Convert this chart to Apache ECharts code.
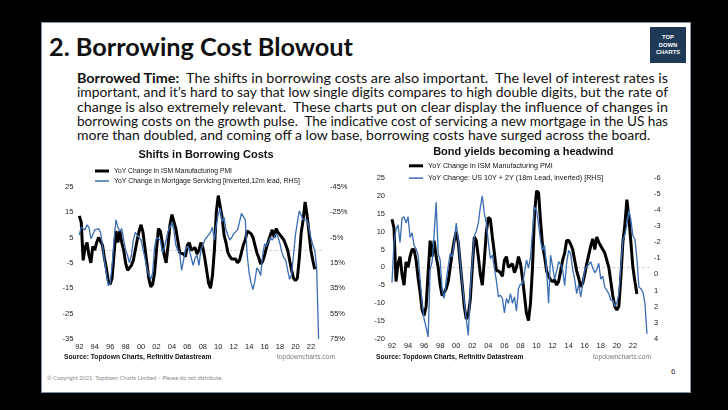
<!DOCTYPE html>
<html>
<head>
<meta charset="utf-8">
<script src="https://cdn.jsdelivr.net/npm/echarts@6.0.0/dist/echarts.min.js"></script>
<style>
  html, body { margin:0; padding:0; }
  body { width:728px; height:410px; background:#000; position:relative; overflow:hidden; font-family: Lato, "Liberation Sans", sans-serif; }
  #slide { position:absolute; left:41px; top:22px; width:650px; height:371px; background:#fff; border:1px solid #7f90a8; box-sizing:border-box; }
  .pl { position:absolute; left:77px; height:14px; line-height:14px; font-size:13px; color:#111; white-space:pre; transform-origin:0 50%; }
  #title { position:absolute; left:49px; top:32px; line-height:30px; font-size:24px; font-weight:700; color:#111; white-space:pre; transform-origin:0 50%; }
  #logo { position:absolute; left:650px; top:27px; width:36px; height:36px; background:#1e3a56; color:#fff; font-family:"Liberation Sans", sans-serif; font-weight:700; font-size:5.8px; text-align:center; }
  #logo div { position:absolute; left:0; width:36px; line-height:7px; }
  #copy { position:absolute; left:47px; top:374px; font-size:5.7px; color:#8a8a8a; white-space:pre; }
  #pnum { position:absolute; left:671px; top:367px; font-size:8px; color:#333; font-family:"Liberation Sans", sans-serif; }
  #chart { position:absolute; left:0; top:0; width:728px; height:410px; }
</style>
</head>
<body>
<div id="slide"></div>
<div id="title">2. Borrowing Cost Blowout</div>
<div id="logo"><div style="top:7px">TOP</div><div style="top:14.5px">DOWN</div><div style="top:22px">CHARTS</div></div>
<div class="pl" id="l1" style="top:71px"><b>Borrowed Time:</b>  The shifts in borrowing costs are also important.  The level of interest rates is</div>
<div class="pl" id="l2" style="top:85.3px">important, and it’s hard to say that low single digits compares to high double digits, but the rate of</div>
<div class="pl" id="l3" style="top:99.5px">change is also extremely relevant.  These charts put on clear display the influence of changes in</div>
<div class="pl" id="l4" style="top:113.8px">borrowing costs on the growth pulse.  The indicative cost of servicing a new mortgage in the US has</div>
<div class="pl" id="l5" style="top:128px">more than doubled, and coming off a low base, borrowing costs have surged across the board.</div>
<div id="copy">© Copyright 2021  Topdown Charts Limited – Please do not distribute.</div>
<div id="pnum">6</div>
<div id="chart"></div>
<script>
// ---------------- DATA ----------------
const START_YEAR = 1992;      // first observation (quarterly sampling)
const STEP = 0.25;            // years between observations

// YoY change in ISM Manufacturing PMI (points), 1992Q1 .. 2022Q3
const ismPmiYoY = [
  13.5, 11, -4, 1,
  3, -2, -5, 1.5,
  0, 3, 5, 5,
  2, -3, -7, -12,
  -13.5, -11, -1.5, 7.5,
  3, 7.5, 3, 0,
  -5, -8, -7, -6,
  -4, 0, 4, 7.5,
  10, 7, 1, -5,
  -11, -14.5, -13.5, -9,
  0, 8.5, 7.5, 3,
  -2, -5, 2, 10,
  14, 13.5, 8.5, 4,
  -1, -1, -1.5, -2.5,
  2, 3, 0, 0.5,
  1, -1.5, 0, 3,
  1, -3, -8, -13,
  -15, -10, 0, 15,
  21.5, 21, 13, 6,
  3, -1, -2.5, -3.5,
  -4, -3.5, -5, -4,
  -1, 2, 4, 7.5,
  7.5, 6.5, 5, 2,
  -1, -3, -5.5, -4.5,
  -2, 1, 3.5, 6,
  8, 5, 8.5, 7,
  6, 5, 4, 2,
  0, -4, -8, -11,
  -12, -11, -3, 7,
  12, 19, 14, 7,
  0, -4, -7.5
];

// YoY change in mortgage servicing cost (%), 12m lead, plotted inverted on RHS, 1992Q1 .. 2023Q1
const mortgageServicingYoY = [
  -7, -13, -12, -11,
  -15, -13, -4, -7,
  -11, -12, -12, -9,
  1, 13, 23, 33,
  31, 17, -3, -19,
  -13, -10, -12, -3,
  5, 9, 15, 9,
  -3, -9, -9, -5,
  -3, -3, 11, 19,
  24, 28, 23, 3,
  -5, -5, -3, 7,
  3, -3, -10, -13,
  -17, -11, 1, 5,
  7, 21, 13, 5,
  2, 5, 11, 17,
  11, 9, 17, 5,
  1, -3, -5, -6,
  -9, -13, -3, -15,
  -23, -28, -17, -21,
  -11, -7, -3, -5,
  -8, -9, -11, -17,
  -24, -25, -19, 9,
  23, 31, 36, 29,
  19, 21, 25, 9,
  0, 2, 1, -5,
  -3, -4, -8, -5,
  0, 7, 11, 13,
  21, 28, 24, 9,
  -7, -17, -26, -25,
  -19, -18, -19, -20,
  -5, 1, 5, 19,
  75
];

// YoY change in US 10Y + 2Y yields (pp), 18m lead, plotted inverted on RHS, 1992Q1 .. 2023Q4
const us10y2yYoY = [
  0.5, -2, -2.8, -3.1,
  -2, -3.5, -3.6, -3.2,
  -3.6, -2.3, -2.6, -1.8,
  -1.6, -1.2, 0.3, 1.8,
  2.8, 3.3, 3.9, -0.3,
  -0.8, -2.5, -4.5, -1.3,
  -0.9, 1, 1.5, 0.4,
  -0.5, -1.3, -1.1, -2,
  -3.2, -2.2, -0.8, 0.6,
  1.7, 2.8, 3.8, 1,
  -0.8, -2.4, -2.7, -3.2,
  -4.2, -4.9, -3.8, -3.2,
  -2, -1, -1.2, -0.4,
  0.4, 1.4, 1.3, 1.5,
  2.4, 1.5, 1.8, 1.2,
  1.8, 1.4, 2.3, 0.9,
  0.6, 0.6, -0.1, -0.9,
  -0.4, -1.1, -2.7, -4.2,
  -4, -3.1, -2.1, -1.5,
  -1.8, -0.3, 1.8, -1.2,
  -0.5, 0.3, -0.2, -0.8,
  -0.6, -0.3, 0.7, -0.7,
  -1.5, -1.3, -0.3, 0.3,
  1.2, 0.6, 1.4, 0.6,
  -0.3, -0.5, -0.6, -0.8,
  -0.4, -0.1, -0.3, -0.7,
  0.3, 0.1, 0.8, 1,
  1.2, 1.6, 1.6, 2,
  1.8, 1.2, -0.5, -2.1,
  -2.5, -3.1, -4, -3.4,
  -2.4, -2.2, -1, 0.8,
  0.9, 1.1, 1.8, 3.7
];

const yearTicks = [1992,1994,1996,1998,2000,2002,2004,2006,2008,2010,2012,2014,2016,2018,2020,2022];
const leftLhsTicks = [-35,-25,-15,-5,5,15,25];
const leftRhsTicks = [-45,-25,-5,15,35,55,75];
const rightLhsTicks = [-20,-15,-10,-5,0,5,10,15,20,25];
const rightRhsTicks = [-6,-5,-4,-3,-2,-1,0,1,2,3,4];

const NAME_ISM = 'YoY Change in ISM Manufacturing PMI';
const NAME_MORT = 'YoY Change in Mortgage Servicing [inverted,12m lead, RHS]';
const NAME_YLD = 'YoY Change: US 10Y + 2Y (18m Lead, inverted) [RHS]';

// ---------------- TEXT FITTING (slide text) ----------------
(function fitText(){
  const target = 591;
  let scales = [];
  ['l1','l2','l3','l4'].forEach(id => {
    const el = document.getElementById(id);
    const w = el.getBoundingClientRect().width;
    const s = target / w; scales.push(s);
    el.style.transform = 'scaleX(' + s + ')';
  });
  const avg = scales.reduce((a,b)=>a+b,0)/scales.length;
  document.getElementById('l5').style.transform = 'scaleX(' + avg + ')';
  const t = document.getElementById('title');
  const tw = t.getBoundingClientRect().width;
  t.style.transform = 'scaleX(' + (304 / tw) + ')';
})();

// ---------------- CHART ----------------
const toXY = arr => arr.map((v, i) => [START_YEAR + i * STEP, v]);
const BLUE = '#3a6db5';
const FONT = '"Liberation Sans", Arial, sans-serif';
const lab = { fontFamily: FONT, fontSize: 7.5, color: '#1a1a1a' };
const yr = v => String(Math.round(v) % 100).padStart(2, '0');

function xAx(gridIndex, max) {
  return {
    type: 'value', gridIndex, min: START_YEAR, max,
    axisLine: { show: false }, axisTick: { show: false }, splitLine: { show: false },
    axisLabel: Object.assign({ customValues: yearTicks, formatter: yr, margin: 3.5 }, lab)
  };
}
function yAx(gridIndex, min, max, ticks, opts) {
  return Object.assign({
    type: 'value', gridIndex, min, max,
    axisLine: { show: false }, axisTick: { show: false }, splitLine: { show: false },
  }, opts, {
    axisLabel: Object.assign({ customValues: ticks }, lab, opts.axisLabel || {})
  });
}
function legend(name, left, top, h, fs) {
  return {
    data: [name], left, top, padding: 0, icon: 'rect', itemWidth: 14, itemHeight: h,
    selectedMode: false, textStyle: { fontFamily: FONT, fontSize: fs, color: '#111' }
  };
}
const zeroLine = {
  silent: true, symbol: 'none', z: 1, label: { show: false },
  lineStyle: { color: '#d2d2d2', type: [3, 2], width: 1 },
  data: [{ yAxis: 0 }]
};

const chart = echarts.init(document.getElementById('chart'), null, { renderer: 'canvas' });
chart.setOption({
  backgroundColor: 'transparent',
  animation: false,
  grid: [
    { left: 79.3, top: 186.7, width: 242.7, height: 152.3 },
    { left: 392, top: 178.3, width: 258, height: 160.2 }
  ],
  xAxis: [ xAx(0, 2023.44), xAx(1, 2024.13) ],
  yAxis: [
    yAx(0, -35, 25, leftLhsTicks, { axisLabel: { margin: 6 } }),
    yAx(0, -45, 75, leftRhsTicks, { position: 'right', inverse: true, axisLabel: { margin: 8, formatter: v => v + '%' } }),
    yAx(1, -20, 25, rightLhsTicks, { axisLabel: { margin: 7 } }),
    yAx(1, -6, 4, rightRhsTicks, { position: 'right', inverse: true, axisLabel: { margin: 4 } })
  ],
  legend: [
    legend(NAME_ISM, 95, 167.5, 3, 6.8),
    legend(NAME_MORT, 95, 177.5, 1.5, 6.9),
    legend(NAME_ISM, 409, 162.3, 3, 7.2),
    legend(NAME_YLD, 409, 174.6, 1.5, 7.2)
  ],
  graphic: [
    { type: 'text', x: 206, y: 155, style: { text: 'Shifts in Borrowing Costs', font: 'bold 11px ' + FONT, fill: '#111', align: 'center', verticalAlign: 'middle' } },
    { type: 'text', x: 523.3, y: 152.3, style: { text: 'Bond yields becoming a headwind', font: 'bold 11px ' + FONT, fill: '#111', align: 'center', verticalAlign: 'middle' } },
    { type: 'text', x: 64, y: 357.3, style: { text: 'Source: Topdown Charts, Refinitiv Datastream', font: 'bold 6.7px ' + FONT, fill: '#111', verticalAlign: 'middle' } },
    { type: 'text', x: 277, y: 357.3, style: { text: 'topdowncharts.com', font: '6.7px ' + FONT, fill: '#7a7a7a', verticalAlign: 'middle' } },
    { type: 'text', x: 376, y: 356.7, style: { text: 'Source: Topdown Charts, Refinitiv Datastream', font: 'bold 6.7px ' + FONT, fill: '#111', verticalAlign: 'middle' } },
    { type: 'text', x: 593, y: 356.7, style: { text: 'topdowncharts.com', font: '6.7px ' + FONT, fill: '#7a7a7a', verticalAlign: 'middle' } }
  ],
  series: [
    { name: NAME_ISM, type: 'line', xAxisIndex: 0, yAxisIndex: 0, data: toXY(ismPmiYoY), showSymbol: false, symbol: 'none',
      color: '#000', lineStyle: { color: '#000', width: 3 }, z: 3, markLine: zeroLine },
    { name: NAME_MORT, type: 'line', xAxisIndex: 0, yAxisIndex: 1, data: toXY(mortgageServicingYoY), showSymbol: false, symbol: 'none',
      color: BLUE, lineStyle: { color: BLUE, width: 1.3 }, z: 4 },
    { name: NAME_ISM, type: 'line', xAxisIndex: 1, yAxisIndex: 2, data: toXY(ismPmiYoY), showSymbol: false, symbol: 'none',
      color: '#000', lineStyle: { color: '#000', width: 3 }, z: 3, markLine: zeroLine },
    { name: NAME_YLD, type: 'line', xAxisIndex: 1, yAxisIndex: 3, data: toXY(us10y2yYoY), showSymbol: false, symbol: 'none',
      color: BLUE, lineStyle: { color: BLUE, width: 1.3 }, z: 4 }
  ]
});
</script>
</body>
</html>
